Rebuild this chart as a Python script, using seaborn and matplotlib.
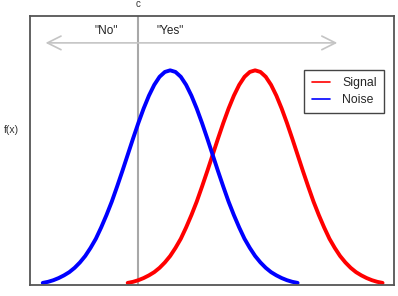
import matplotlib
matplotlib.use("Agg")
import matplotlib.pyplot as plt
import matplotlib.transforms as mtransforms
import pandas as pd
import seaborn as sns

# values (density of each distribution)
noise_x = [-3.0, -2.875, -2.75, -2.625, -2.5, -2.375, -2.25, -2.125, -2.0, -1.875, -1.75, -1.625,
           -1.5, -1.375, -1.25, -1.125, -1.0, -0.875, -0.75, -0.625, -0.5, -0.375, -0.25, -0.125,
           0.0, 0.125, 0.25, 0.375, 0.5, 0.625, 0.75, 0.875, 1.0, 1.125, 1.25, 1.375,
           1.5, 1.625, 1.75, 1.875, 2.0, 2.125, 2.25, 2.375, 2.5, 2.625, 2.75, 2.875, 3.0]
noise_f = [0.004, 0.006, 0.009, 0.013, 0.018, 0.024, 0.032, 0.042, 0.054, 0.069, 0.086, 0.107,
           0.130, 0.155, 0.183, 0.212, 0.242, 0.272, 0.301, 0.328, 0.352, 0.372, 0.387, 0.396,
           0.399, 0.396, 0.387, 0.372, 0.352, 0.328, 0.301, 0.272, 0.242, 0.212, 0.183, 0.155,
           0.130, 0.107, 0.086, 0.069, 0.054, 0.042, 0.032, 0.024, 0.018, 0.013, 0.009, 0.006, 0.004]
signal_x = [-1.0, -0.875, -0.75, -0.625, -0.5, -0.375, -0.25, -0.125, 0.0, 0.125, 0.25, 0.375,
            0.5, 0.625, 0.75, 0.875, 1.0, 1.125, 1.25, 1.375, 1.5, 1.625, 1.75, 1.875,
            2.0, 2.125, 2.25, 2.375, 2.5, 2.625, 2.75, 2.875, 3.0, 3.125, 3.25, 3.375,
            3.5, 3.625, 3.75, 3.875, 4.0, 4.125, 4.25, 4.375, 4.5, 4.625, 4.75, 4.875, 5.0]
signal_f = [0.004, 0.006, 0.009, 0.013, 0.018, 0.024, 0.032, 0.042, 0.054, 0.069, 0.086, 0.107,
            0.130, 0.155, 0.183, 0.212, 0.242, 0.272, 0.301, 0.328, 0.352, 0.372, 0.387, 0.396,
            0.399, 0.396, 0.387, 0.372, 0.352, 0.328, 0.301, 0.272, 0.242, 0.212, 0.183, 0.155,
            0.130, 0.107, 0.086, 0.069, 0.054, 0.042, 0.032, 0.024, 0.018, 0.013, 0.009, 0.006, 0.004]

criterion = -0.75
response_labels = ['"No"', '"Yes"']
response_pos = [-1.5, 0.0]

sns.set_style("white")
plt.rcParams["font.family"] = ["Liberation Sans", "DejaVu Sans"]

df = pd.concat([
    pd.DataFrame({"x": signal_x, "f": signal_f, "curve": "Signal"}),
    pd.DataFrame({"x": noise_x, "f": noise_f, "curve": "Noise"}),
])

fig = plt.figure(figsize=(3.98, 2.96), dpi=100)
ax = fig.add_axes([0.0754, 0.037, 0.9146, 0.909])

sns.lineplot(data=df, x="x", y="f", hue="curve", hue_order=["Signal", "Noise"],
             palette={"Signal": "#ff0000", "Noise": "#0000ff"}, linewidth=2.8,
             sort=False, ax=ax)

ax.set_xlim(-3.3, 5.27)
ax.set_ylim(0, 0.5)
ax.set_xticks([])
ax.set_yticks([])
ax.set_xlabel("")
ax.set_ylabel("")
for sp in ax.spines.values():
    sp.set_color("#555555")
    sp.set_linewidth(1.3)

ax.axvline(criterion, color="#a8a8a8", lw=1.5, zorder=1)
trans = mtransforms.blended_transform_factory(ax.transData, ax.transAxes)
ax.text(criterion, 1.045, "c", transform=trans, ha="center", va="center", fontsize=7, color="#333333")

ax.annotate("", xy=(-3.0, 0.45), xytext=(4.0, 0.45),
            arrowprops=dict(arrowstyle="<->,head_length=0.7,head_width=0.35",
                            color="#c4c4c4", lw=1.2, mutation_scale=14))
for lab, xp in zip(response_labels, response_pos):
    ax.text(xp, 0.472, lab, ha="center", va="center", fontsize=8.5, color="#222222")

ax.text(-0.05, 0.576, "f(x)", transform=ax.transAxes, ha="center", va="center",
        fontsize=7.5, color="#333333")

leg = ax.legend(title=None, loc="upper right", bbox_to_anchor=(0.973, 0.80),
                borderaxespad=0, fancybox=False, framealpha=1, edgecolor="#444444",
                fontsize=8.8, handlelength=1.5, handletextpad=1.0, borderpad=0.6,
                labelspacing=0.4)
leg.get_frame().set_linewidth(1.0)
for h in leg.get_lines():
    h.set_linewidth(1.2)

fig.savefig("out.png", dpi=100)
